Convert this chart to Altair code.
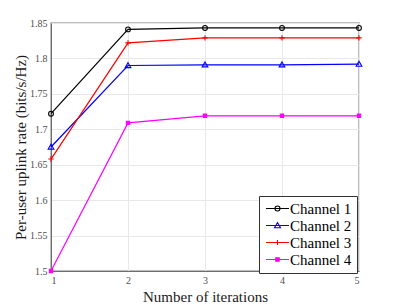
import altair as alt
import pandas as pd

iterations = [1, 2, 3, 4, 5]
channels = ["Channel 1", "Channel 2", "Channel 3", "Channel 4"]
ch1 = [1.722, 1.841, 1.843, 1.843, 1.843]
ch2 = [1.675, 1.790, 1.791, 1.791, 1.792]
ch3 = [1.658, 1.822, 1.829, 1.829, 1.829]
ch4 = [1.500, 1.709, 1.719, 1.719, 1.719]
series = [ch1, ch2, ch3, ch4]

colors = ["#000000", "#0000ff", "#ff0000", "#ff00ff"]
fills = ["transparent", "transparent", "transparent", "#ff00ff"]

rows = []
for name, vals in zip(channels, series):
    for it, v in zip(iterations, vals):
        rows.append({"iter": it, "rate": v, "channel": name})
df = pd.DataFrame(rows)

# marker paths (unit box)
circle = "M-0.8,0A0.8,0.8 0 1,0 0.8,0A0.8,0.8 0 1,0 -0.8,0Z"
tri = "M0,-0.95L0.95,0.7L-0.95,0.7Z"
plus = "M-0.9,0H0.9M0,-0.9V0.9"
square = "M-0.55,-0.55H0.55V0.55H-0.55Z"
marker_shapes = [circle, tri, plus, square]

# legend symbols: line + marker (unit = 5px for size 100)
c = 1.2
def lg(marker):
    return f"M{c-2.3},0H{c+2.3}" + marker
leg_shapes = [
    lg(f"M{c-0.5},0A0.5,0.5 0 1,0 {c+0.5},0A0.5,0.5 0 1,0 {c-0.5},0Z"),
    lg(f"M{c},-0.6L{c+0.6},0.45L{c-0.6},0.45Z"),
    lg(f"M{c},-0.5V0.5"),
    lg(f"M{c-0.35},-0.35H{c+0.35}V0.35H{c-0.35}Z"),
]

font = "Liberation Serif"
xs = alt.X("iter:Q", scale=alt.Scale(domain=[1, 5], nice=False),
           axis=alt.Axis(values=iterations, format="d", title="Number of iterations",
                         tickCount=5))
ys = alt.Y("rate:Q", scale=alt.Scale(domain=[1.5, 1.85], nice=False, zero=False),
           axis=alt.Axis(values=[1.5, 1.55, 1.6, 1.65, 1.7, 1.75, 1.8, 1.85],
                         labelExpr="format(datum.value, '.3~g')",
                         title="Per-user uplink rate (bits/s/Hz)"))

cscale = alt.Scale(domain=channels, range=colors)

lines = alt.Chart(df).mark_line(strokeWidth=1.2).encode(
    x=xs, y=ys, color=alt.Color("channel:N", scale=cscale, legend=None),
    detail="channel:N")

points = alt.Chart(df).mark_point(filled=False, size=36, strokeWidth=1.1, opacity=1).encode(
    x=xs, y=ys,
    color=alt.Color("channel:N", scale=cscale, legend=None),
    shape=alt.Shape("channel:N", scale=alt.Scale(domain=channels, range=marker_shapes), legend=None),
    fill=alt.Fill("channel:N", scale=alt.Scale(domain=channels, range=fills), legend=None),
)

leg = alt.Chart(df).mark_point(filled=False, size=100, opacity=0).encode(
    x=xs, y=ys,
    color=alt.Color("channel:N", scale=cscale, legend=alt.Legend(
        title=None, orient="none", legendX=208, legendY=173,
        symbolSize=100, symbolStrokeWidth=1.1, symbolOpacity=1,
        labelFont=font, labelFontSize=15, labelColor="#000000",
        labelOffset=11, padding=5, rowPadding=1,
        strokeColor="#333333", fillColor="#ffffff", cornerRadius=0)),
    shape=alt.Shape("channel:N", scale=alt.Scale(domain=channels, range=leg_shapes)),
    fill=alt.Fill("channel:N", scale=alt.Scale(domain=channels, range=fills)),
)

chart = alt.layer(lines, points, leg).resolve_scale(
    color="independent", shape="independent", fill="independent"
).properties(
    width=308, height=248,
    autosize=alt.AutoSizeParams(type="none"),
    padding={"left": 43, "top": 15, "right": 30, "bottom": 34},
    background="white",
).configure_view(
    stroke="#a6a6a6", strokeWidth=1.5
).configure_axis(
    labelFont=font, titleFont=font, labelFontSize=10, labelColor="#4d4d4d",
    titleFontSize=15, titleFontWeight="normal", titleColor="#1a1a1a",
    gridColor="#e8e8e8", gridWidth=1, domainColor="#6e6e6e", ticks=False,
    labelPadding=4,
).configure_axisY(titlePadding=1).configure_axisX(titlePadding=4
).configure_legend(labelFont=font, labelFontSize=15)

chart.save("out.html", embed_options={"renderer": "svg", "actions": False})
